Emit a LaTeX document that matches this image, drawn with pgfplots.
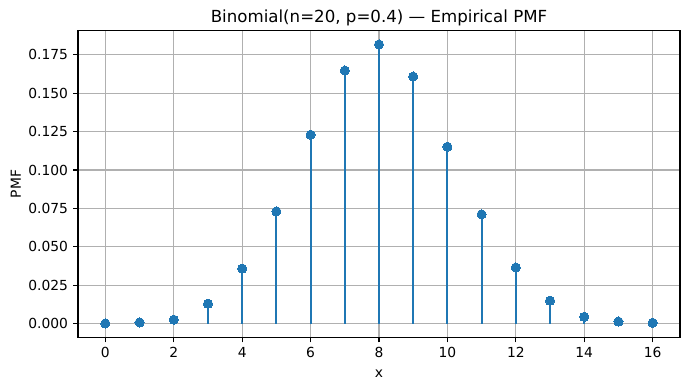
\documentclass[border=0pt]{standalone}
\usepackage{pgfplots}
\pgfplotsset{compat=1.18}
\usepackage{fontspec}
\setmainfont{DejaVu Sans}
\definecolor{c0}{HTML}{1F77B4}
\definecolor{gridc}{HTML}{B0B0B0}
\begin{document}
\begin{tikzpicture}
\begin{axis}[
  at={(0,0)}, anchor=south west,
  scale only axis, width=602bp, height=307bp,
  xmin=-0.8, xmax=16.8, ymin=-0.00909, ymax=0.19089,
  xtick={0,2,4,6,8,10,12,14,16},
  ytick={0,0.025,0.05,0.075,0.1,0.125,0.15,0.175},
  scaled y ticks=false,
  yticklabel style={/pgf/number format/fixed, /pgf/number format/fixed zerofill, /pgf/number format/precision=3},
  /pgf/number format/assume math mode=true,
  grid=major, grid style={gridc, line width=1.1bp},
  axis line style={line width=1.1bp},
  tick style={black, line width=1.1bp},
  tick align=outside, major tick length=4.9bp, tick pos=left,
  ticklabel style={font=\fontsize{13.9}{16}\selectfont},
  xticklabel style={inner sep=0pt, yshift=-4.9bp},
  yticklabel style={inner sep=0pt, xshift=-4.9bp},
  label style={font=\fontsize{13.9}{16}\selectfont},
  title={Binomial(n=20, p=0.4) — Empirical PMF},
  title style={font=\fontsize{16.7}{20}\selectfont, inner sep=0pt, anchor=base, yshift=2.3bp},
  xlabel={x}, ylabel={PMF},
  xlabel style={at={(axis description cs:0.5,0)}, anchor=base, yshift=-39.5bp},
  ylabel style={at={(axis description cs:-0.0947,0.5)}, anchor=base, inner sep=0pt},
]
\addplot[ycomb, c0, line width=2.1bp, mark=*, mark size=4.6,
  mark options={fill=c0, draw=c0, line width=0pt}] coordinates {
  (0,0.00004) (1,0.0007) (2,0.0025) (3,0.0129) (4,0.0358)
  (5,0.0730) (6,0.1230) (7,0.1648) (8,0.1818) (9,0.1609)
  (10,0.1152) (11,0.0711) (12,0.0365) (13,0.0149) (14,0.0044)
  (15,0.0013) (16,0.0005)
};
\end{axis}
\pgfresetboundingbox
\path (-78bp,-52.5bp) rectangle (612bp,337.5bp);
\end{tikzpicture}
\end{document}
